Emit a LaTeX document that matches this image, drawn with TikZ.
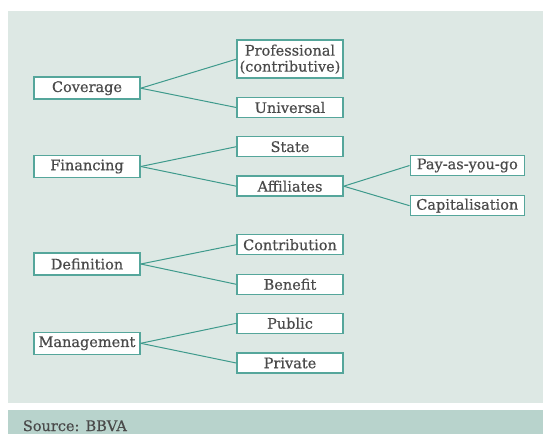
\documentclass[tikz,border=0pt]{standalone}
\usepackage{fontspec}
\setmainfont[FakeBold=0.6]{DejaVu Serif}
\definecolor{panel}{HTML}{DDE8E4}
\definecolor{bar}{HTML}{B8D3CC}
\definecolor{teal}{HTML}{3E9A8C}
\definecolor{boxline}{HTML}{55A69B}
\definecolor{txt}{HTML}{4A4A4A}
\tikzset{
  box/.style={draw=boxline, line width=1.5pt, fill=white, inner sep=0pt,
    text=txt, font=\fontsize{14.5}{16}\selectfont, align=center},
  lbox/.style={box, minimum width=106pt, minimum height=22pt},
  mbox/.style={box, minimum width=106pt, minimum height=20pt},
  rbox/.style={box, minimum width=114pt, minimum height=20pt},
  link/.style={draw=teal, line width=1pt}
}
\begin{document}
\begin{tikzpicture}[x=1pt, y=-1pt]
\useasboundingbox (0,0) rectangle (543,434);
\fill[panel] (8,11) rectangle (543,403);
\fill[bar] (8,409.5) rectangle (543,434);

\node[lbox] (cov) at (87,88.2) {Coverage};
\node[lbox] (fin) at (87,166.5) {Financing};
\node[lbox] (def) at (87,264) {Definition};
\node[lbox] (man) at (87,343.3) {Management};

\node[mbox, minimum height=38pt] (prof) at (290,59.2) {Professional\\(contributive)};
\node[mbox] (uni) at (290,107.5) {Universal};
\node[mbox] (sta) at (290,146.7) {State};
\node[mbox] (aff) at (290,186.2) {Affiliates};
\node[mbox] (con) at (290,244.7) {Contribution};
\node[mbox] (ben) at (290,284.3) {Benefit};
\node[mbox] (pub) at (290,323.3) {Public};
\node[mbox] (pri) at (290,363) {Private};

\node[rbox] (pay) at (467.3,165.5) {Pay-as-you-go};
\node[rbox] (cap) at (467.3,205.7) {Capitalisation};

\draw[link] (cov.east) -- (prof.west);
\draw[link] (cov.east) -- (uni.west);
\draw[link] (fin.east) -- (sta.west);
\draw[link] (fin.east) -- (aff.west);
\draw[link] (aff.east) -- (pay.west);
\draw[link] (aff.east) -- (cap.west);
\draw[link] (def.east) -- (con.west);
\draw[link] (def.east) -- (ben.west);
\draw[link] (man.east) -- (pub.west);
\draw[link] (man.east) -- (pri.west);

\node[anchor=base west, inner sep=0pt, text=txt, font=\fontsize{14.5}{16}\selectfont] (src) at (22.7,431) {Source: BBVA};
\end{tikzpicture}
\end{document}
